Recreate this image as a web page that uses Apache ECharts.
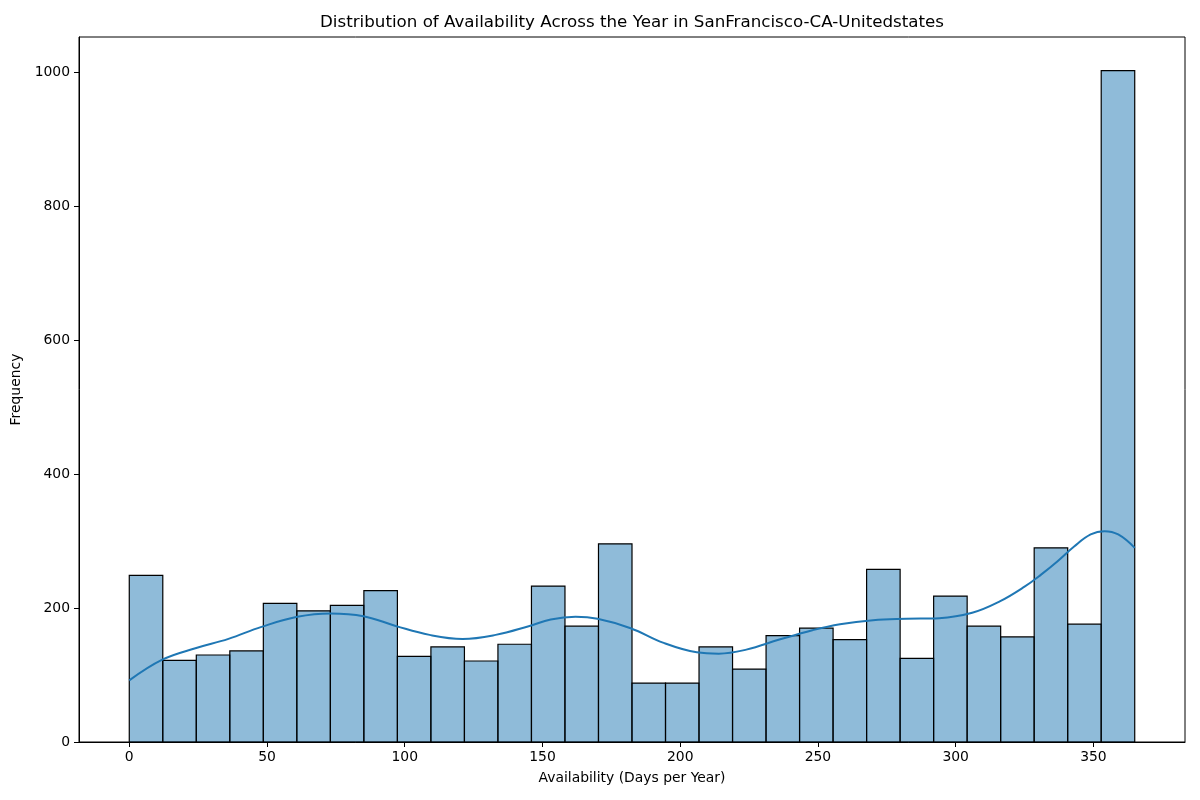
<!DOCTYPE html>
<html>
<head>
<meta charset="utf-8">
<script src="https://cdn.jsdelivr.net/npm/echarts@6/dist/echarts.min.js"></script>
<style>html,body{margin:0;padding:0;background:#fff}#c{width:1200px;height:800px}</style>
</head>
<body>
<div id="c"></div>
<script>
// Histogram: 30 bins across 0..365 days
const binStart = 0;
const binEnd = 365;
const counts = [249, 122, 130, 136, 207, 196, 204, 226, 128, 142, 121, 146, 233, 173, 296,
                88, 88, 142, 109, 159, 170, 153, 258, 125, 218, 173, 157, 290, 176, 1003];
// KDE curve (days, frequency scale)
const kdeX = [0, 12, 24, 36, 48, 61, 73, 85, 97, 109, 121, 133, 145, 153, 162, 170, 182, 194, 206, 214, 224, 236, 248, 258, 270, 282, 294, 306, 316, 325, 331, 337, 343, 349, 354, 359, 365];
const kdeY = [92, 123, 140, 154, 172, 187, 192, 188, 173, 160, 154, 160, 173, 183, 187, 184, 170, 148, 134, 132, 138, 153, 167, 176, 182, 184, 185, 193, 210, 232, 250, 270, 292, 310, 315, 310, 290];
const xTicks = [0, 50, 100, 150, 200, 250, 300, 350];
const yTicks = [0, 200, 400, 600, 800, 1000];

const nBins = counts.length;
const w = (binEnd - binStart) / nBins;
const histData = counts.map((c, i) => [binStart + i * w, binStart + (i + 1) * w, c]);
const kdeData = kdeX.map((x, i) => [x, kdeY[i]]);
const maxCount = Math.max(...counts);

const font = 'DejaVu Sans';
const chart = echarts.init(document.getElementById('c'), null, {renderer: 'canvas'});
chart.setOption({
  animation: false,
  backgroundColor: '#fff',
  textStyle: {fontFamily: font},
  graphic: [{
    type: 'text', x: 632, y: 23,
    style: {text: 'Distribution of Availability Across the Year in SanFrancisco-CA-Unitedstates',
            fontFamily: font, fontSize: 16.7, fill: '#000', align: 'center', verticalAlign: 'middle'}
  }],
  grid: {left: 79, right: 15, top: 37, bottom: 58, show: true, borderColor: '#000', borderWidth: 1, backgroundColor: 'transparent'},
  xAxis: {
    type: 'value', min: -18.25, max: 383.25,
    name: 'Availability (Days per Year)', nameLocation: 'middle', nameGap: 29,
    nameTextStyle: {fontFamily: font, fontSize: 13.9, color: '#000'},
    axisLine: {show: true, onZero: false, lineStyle: {color: '#000', width: 1}},
    axisTick: {show: true, length: 5, lineStyle: {color: '#000'}, customValues: xTicks},
    axisLabel: {fontFamily: font, fontSize: 13.9, color: '#000', margin: 8, customValues: xTicks,
                formatter: v => String(v)},
    splitLine: {show: false}
  },
  yAxis: {
    type: 'value', min: 0, max: maxCount * 1.05,
    name: 'Frequency', nameLocation: 'middle', nameGap: 51,
    nameTextStyle: {fontFamily: font, fontSize: 13.9, color: '#000'},
    axisLine: {show: true, onZero: false, lineStyle: {color: '#000', width: 1}},
    axisTick: {show: true, length: 5, lineStyle: {color: '#000'}, customValues: yTicks},
    axisLabel: {fontFamily: font, fontSize: 13.9, color: '#000', margin: 9, customValues: yTicks,
                formatter: v => String(v)},
    splitLine: {show: false}
  },
  series: [{
    type: 'custom',
    data: histData,
    encode: {x: [0, 1], y: 2},
    renderItem: function (params, api) {
      const p0 = api.coord([api.value(0), api.value(2)]);
      const p1 = api.coord([api.value(1), 0]);
      return {
        type: 'rect',
        shape: {x: p0[0], y: p0[1], width: p1[0] - p0[0], height: p1[1] - p0[1]},
        style: {fill: 'rgba(31,119,180,0.5)', stroke: '#000', lineWidth: 1.2}
      };
    },
    z: 2
  }, {
    type: 'line',
    data: kdeData,
    smooth: 0.4,
    showSymbol: false,
    lineStyle: {color: '#1f77b4', width: 2},
    z: 3
  }]
});
</script>
</body>
</html>
